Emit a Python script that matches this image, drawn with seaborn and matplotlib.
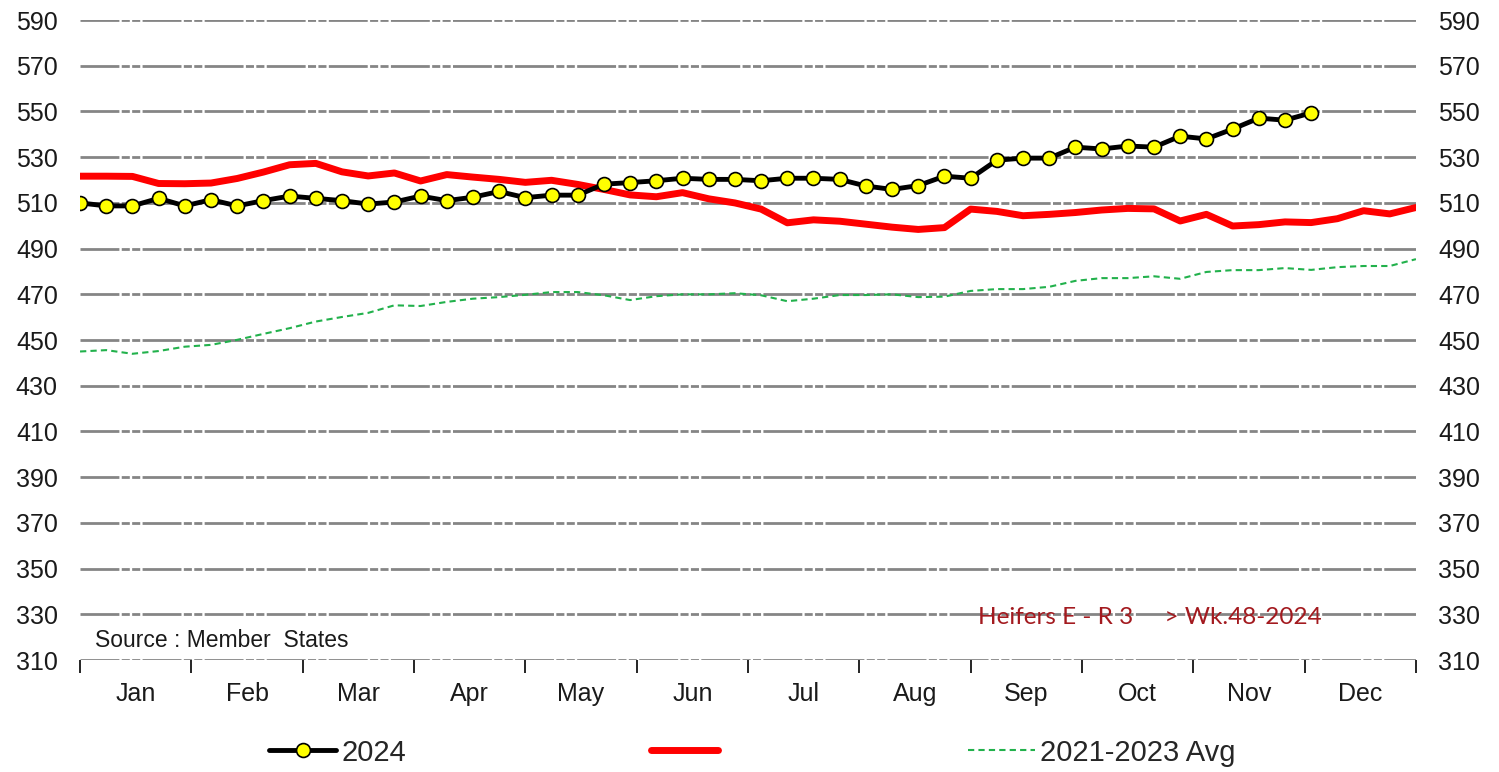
import numpy as np
import pandas as pd
import matplotlib.pyplot as plt
import seaborn as sns

months = ["Jan", "Feb", "Mar", "Apr", "May", "Jun",
          "Jul", "Aug", "Sep", "Oct", "Nov", "Dec"]

# weekly prices, week 1..48 of 2024
y2024 = [510.0, 508.7, 508.7, 512.0, 508.7, 511.4, 508.7, 511.0, 513.0, 512.0,
         511.0, 509.5, 510.4, 513.0, 511.0, 512.5, 515.0, 512.3, 513.4, 513.4,
         518.2, 518.9, 519.7, 520.8, 520.3, 520.3, 519.7, 520.8, 520.8, 520.3,
         517.4, 515.9, 517.6, 521.7, 520.8, 528.7, 529.6, 529.6, 534.4, 533.6,
         534.9, 534.4, 539.2, 538.0, 542.3, 547.1, 546.2, 549.4]

# red series (no label in the legend), 52 weeks
y_prev = [521.7, 521.7, 521.6, 518.5, 518.4, 518.7, 520.7, 523.5, 526.7, 527.3,
          523.6, 521.8, 523.1, 519.6, 522.4, 521.3, 520.3, 519.0, 519.9, 518.1,
          515.9, 513.5, 512.7, 514.5, 511.8, 510.0, 507.3, 501.3, 502.6, 502.0,
          500.7, 499.4, 498.4, 499.2, 507.3, 506.3, 504.4, 505.0, 505.8, 506.9,
          507.6, 507.4, 502.1, 505.0, 499.9, 500.5, 501.7, 501.4, 503.1, 506.6,
          505.2, 508.0]

# 2021-2023 average, 52 weeks
y_avg = [445.0, 445.6, 444.0, 445.2, 447.1, 447.9, 450.1, 452.7, 455.2, 458.1,
         460.1, 461.9, 465.2, 464.9, 466.7, 468.1, 468.8, 469.8, 471.0, 471.0,
         469.6, 467.5, 469.2, 470.0, 470.0, 470.5, 469.6, 467.0, 468.1, 469.7,
         469.7, 470.0, 468.8, 469.0, 471.5, 472.3, 472.3, 473.3, 475.9, 477.1,
         477.1, 477.9, 476.8, 479.8, 480.6, 480.6, 481.5, 480.7, 481.9, 482.4,
         482.4, 485.4]

df24 = pd.DataFrame({"week": np.arange(len(y2024)), "price": y2024})
dfprev = pd.DataFrame({"week": np.arange(len(y_prev)), "price": y_prev})
dfavg = pd.DataFrame({"week": np.arange(len(y_avg)), "price": y_avg})

sns.set_style("white")
plt.rcParams['font.family'] = ['Liberation Sans', 'DejaVu Sans']

fig = plt.figure(figsize=(14.99, 7.72), dpi=100)
ax = fig.add_axes([0.0534, 0.145, 0.8912, 0.829])

sns.lineplot(data=dfavg, x="week", y="price", ax=ax, color="#22b14c",
             lw=1.5, linestyle=(0, (3, 2)))
sns.lineplot(data=dfprev, x="week", y="price", ax=ax, color="#ff0000", lw=5)
sns.lineplot(data=df24, x="week", y="price", ax=ax, color="black", lw=3.5,
             marker="o", markersize=10, markerfacecolor="#ffff00",
             markeredgecolor="black", markeredgewidth=1.2)

nweeks = len(y_prev) - 1
ax.set_xlim(0, nweeks)
ax.set_ylim(310, 590)
ax.set_yticks(np.arange(310, 591, 20))
for y in np.arange(310, 591, 20):
    ax.axhline(y, color="#858585", lw=2.0, zorder=0,
               linestyle=(0, (14, 0.85, 2.9, 0.85, 2.9, 0.85)))

edges = np.linspace(0, nweeks, 13)
ax.set_xticks(edges)
ax.set_xticklabels([])
ax.set_xticks((edges[:-1] + edges[1:]) / 2, minor=True)
ax.set_xticklabels(months, minor=True)
ax.tick_params(axis="x", which="major", direction="out", length=9,
               width=1.2, color="black", bottom=True)
ax.tick_params(axis="x", which="minor", length=0, pad=16, labelsize=18,
               colors="#1a1a1a")
ax.tick_params(axis="y", length=0, labelsize=18, colors="#1a1a1a",
               labelleft=True, labelright=True, pad=16)
for s in ["top", "left", "right", "bottom"]:
    ax.spines[s].set_visible(False)
ax.set_xlabel("")
ax.set_ylabel("")

ax.text(0.57, 315.7, "Source : Member  States", fontsize=16.5,
        color="#1a1a1a", va="baseline")
ax.text(34.28, 325.7, "Heifers E - R 3     > Wk.48-2024",
        fontsize=17.5, color="#a31a1f", va="baseline",
        family=["Lato", "DejaVu Sans"])

lines = ax.get_lines()
handles = [lines[2], lines[1], lines[0]]
fig.legend(handles, ["2024", "", "2021-2023 Avg"], loc="lower center",
           bbox_to_anchor=(0.502, -0.027), ncol=3, frameon=False, fontsize=21,
           handlelength=2.3, columnspacing=8.4, handletextpad=0.17)

fig.savefig("out.png", dpi=100)
